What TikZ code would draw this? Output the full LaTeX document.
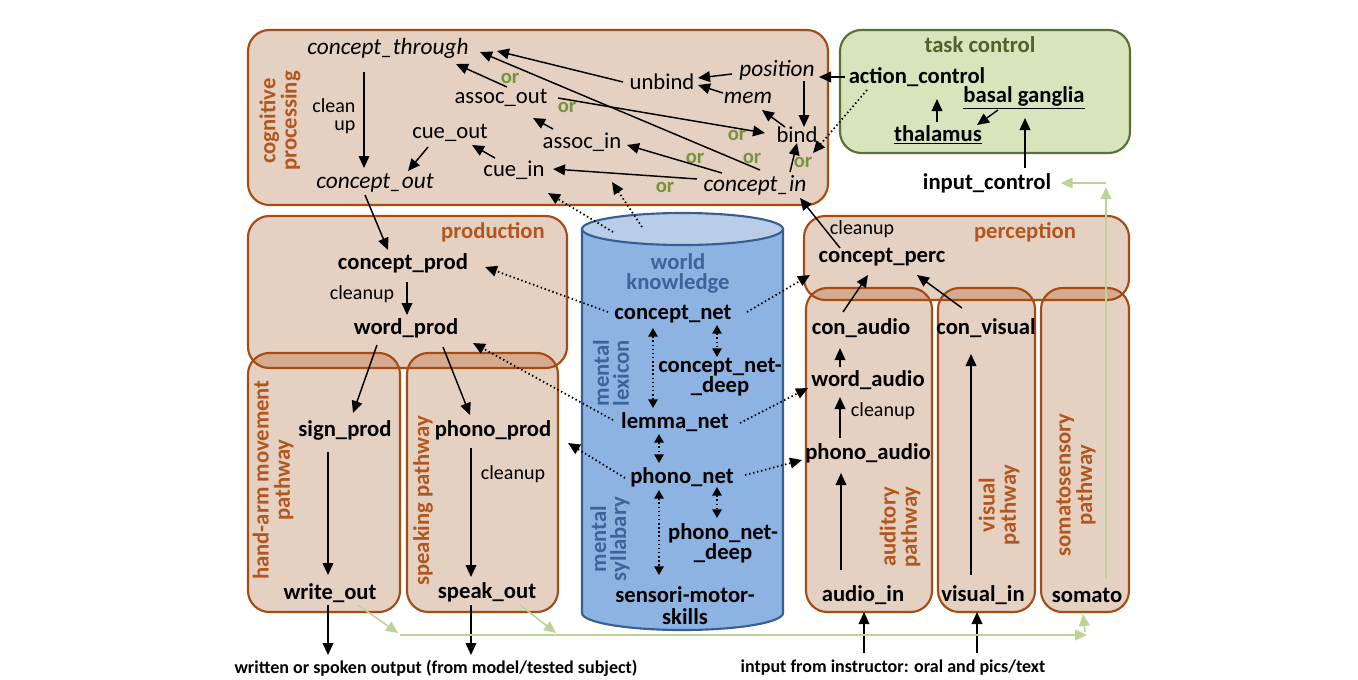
\documentclass[tikz,border=0pt]{standalone}
\usepackage{fontspec}
\setmainfont{Carlito}
\usetikzlibrary{arrows.meta,calc}

\begin{document}
\begin{tikzpicture}[x=0.75pt,y=-0.75pt,
    box/.style={fill=boxfill, rounded corners=16pt},
    boxline/.style={draw=boxdraw, line width=1.6pt, rounded corners=16pt},
    lbl/.style={inner sep=1pt, font=\fontsize{17}{16}\selectfont\bfseries},
    cog/.style={inner sep=1pt, font=\fontsize{17}{16}\selectfont},
    cogit/.style={inner sep=1pt, font=\fontsize{17.5}{16}\selectfont\itshape},
    small/.style={inner sep=1pt, font=\fontsize{15}{14}\selectfont},
    orlbl/.style={inner sep=0pt, text=orgreen, font=\fontsize{15.5}{14}\selectfont\bfseries},
    title/.style={inner sep=1pt, text=titlebrown, font=\fontsize{17}{16}\selectfont\bfseries},
    side/.style={title, rotate=90, align=center},
    cyllbl/.style={inner sep=1pt, text=cyltext, align=center, font=\fontsize{17}{15}\selectfont\bfseries},
    arr/.style={-{Triangle[length=9pt,width=8pt]}, line width=1.1pt},
    dots/.style={arr, dotted, line width=1.3pt},
    ddots/.style={dots, {Triangle[length=6.5pt,width=7pt]}-{Triangle[length=6.5pt,width=7pt]}},
    garr/.style={-{Triangle[length=9pt,width=8pt]}, line width=1.2pt, draw=linegreen, color=linegreen},
  ]
    % Colori
    \definecolor{boxfill}{RGB}{229,209,193}
    \definecolor{boxover}{RGB}{213,170,142}
    \definecolor{boxdraw}{RGB}{165,75,20}
    \definecolor{titlebrown}{RGB}{178,86,30}
    \definecolor{taskfill}{RGB}{216,228,188}
    \definecolor{taskdraw}{RGB}{90,112,50}
    \definecolor{tasktext}{RGB}{79,98,40}
    \definecolor{cylfill}{RGB}{141,179,226}
    \definecolor{cyltop}{RGB}{185,205,232}
    \definecolor{cyldraw}{RGB}{55,96,146}
    \definecolor{cyltext}{RGB}{60,100,155}
    \definecolor{linegreen}{RGB}{190,212,150}
    \definecolor{orgreen}{RGB}{119,147,60}

    \useasboundingbox (0,0) rectangle (1358,679);

    % Riquadri (riempimento)
    \fill[box] (248,30) rectangle (828,205);
    \fill[box] (248,216) rectangle (567,368);
    \fill[box] (248,353) rectangle (400,612);
    \fill[box] (407,353) rectangle (558,612);
    \fill[box] (804,216) rectangle (1129,300);
    \fill[box] (806,288) rectangle (932,612);
    \fill[box] (938,288) rectangle (1035,612);
    \fill[box] (1041,288) rectangle (1129,612);
    \filldraw[fill=taskfill, draw=taskdraw, line width=1.6pt, rounded corners=16pt] (840,30) rectangle (1130,153);

    % Zone di sovrapposizione
    \begin{scope}
      \clip[rounded corners=16pt] (248,216) rectangle (567,368);
      \fill[box, fill=boxover] (248,353) rectangle (400,612);
      \fill[box, fill=boxover] (407,353) rectangle (558,612);
    \end{scope}
    \begin{scope}
      \clip[rounded corners=16pt] (804,216) rectangle (1129,300);
      \fill[box, fill=boxover] (806,288) rectangle (932,612);
      \fill[box, fill=boxover] (938,288) rectangle (1035,612);
      \fill[box, fill=boxover] (1041,288) rectangle (1129,612);
    \end{scope}

    % Riquadri (bordi)
    \draw[boxline] (248,30) rectangle (828,205);
    \draw[boxline] (248,216) rectangle (567,368);
    \draw[boxline] (248,353) rectangle (400,612);
    \draw[boxline] (407,353) rectangle (558,612);
    \draw[boxline] (804,216) rectangle (1129,300);
    \draw[boxline] (806,288) rectangle (932,612);
    \draw[boxline] (938,288) rectangle (1035,612);
    \draw[boxline] (1041,288) rectangle (1129,612);

    % Cilindro
    \filldraw[fill=cylfill, draw=cyldraw, line width=1.6pt] (582,229) -- (582,613)
      arc[start angle=180, end angle=0, x radius=100.5, y radius=17] -- (783,229) -- cycle;
    \filldraw[fill=cyltop, draw=cyldraw, line width=1.6pt] (682.5,229) ellipse[x radius=100.5, y radius=16];

    % Titoli
    \node[side] (cogtitle) at (280,121) {cognitive\\processing};
    \node[title] (prodtitle) at (493,232) {production};
    \node[title] (perctitle) at (1025,232) {perception};
    \node[title, text=tasktext] (tasktitle) at (980,45) {task control};
    \node[side] (handtitle) at (273,480) {hand-arm movement\\pathway};
    \node[side] (speaktitle) at (423,501) {speaking pathway};
    \node[side] (audtitle) at (900,527) {auditory\\pathway};
    \node[side] (vistitle) at (999,505) {visual\\pathway};
    \node[side] (somtitle) at (1076,485) {somatosensory\\pathway};
    \node[cyllbl] (wk) at (678,273) {world\\knowledge};
    \node[cyllbl, rotate=90] (lexicon) at (611,373) {mental\\lexicon};
    \node[cyllbl, rotate=90] (syllab) at (610,539) {mental\\syllabary};

    % Elaborazione cognitiva
    \node[cogit] (thr) at (388,48) {concept\_through};
    \node[small, align=right, anchor=east] (cleanA) at (357,116) {clean\\up};
    \node[cogit] (cout) at (375,183) {concept\_out};
    \node[cog] (cueout) at (450,133) {cue\_out};
    \node[cog] (cuein) at (514,170) {cue\_in};
    \node[cog] (assocout) at (501,98) {assoc\_out};
    \node[cog] (associn) at (582,142) {assoc\_in};
    \node[cog] (unbind) at (662,82) {unbind};
    \node[cogit] (position) at (777,70) {position};
    \node[cogit] (mem) at (748,98) {mem};
    \node[cog] (bind) at (797,135) {bind};
    \node[cogit] (cin) at (755,185) {concept\_in};
    \node[orlbl] (or1) at (510,78) {or};
    \node[orlbl] (or2) at (567,107) {or};
    \node[orlbl] (or3) at (737,135) {or};
    \node[orlbl] (or4) at (695,158) {or};
    \node[orlbl] (or5) at (752,158) {or};
    \node[orlbl] (or6) at (803,162) {or};
    \node[orlbl] (or7) at (665,187) {or};

    % Controllo del compito
    \node[lbl] (action) at (917,77) {action\_control};
    \node[lbl] (basal) at (1024,98) {\underline{basal ganglia}};
    \node[lbl] (thal) at (938,135) {\underline{thalamus}};
    \node[lbl] (input) at (987,183) {input\_control};

    % Produzione
    \node[lbl] (cprod) at (403,263) {concept\_prod};
    \node[small] (cleanB) at (362,294) {cleanup};
    \node[lbl] (wprod) at (406,328) {word\_prod};
    \node[lbl] (sign) at (345,430) {sign\_prod};
    \node[lbl] (phonoprod) at (493,430) {phono\_prod};
    \node[small] (cleanC) at (513,474) {cleanup};
    \node[lbl] (writeout) at (330,593) {write\_out};
    \node[lbl] (speakout) at (487,592) {speak\_out};

    % Conoscenza (cilindro)
    \node[lbl] (cnet) at (673,314) {concept\_net};
    \node[lbl, align=center, font=\fontsize{17}{15}\selectfont\bfseries] (cdeep) at (720,377) {concept\_net-\\\_deep};
    \node[lbl] (lemma) at (675,422) {lemma\_net};
    \node[lbl] (pnet) at (682,477) {phono\_net};
    \node[lbl, align=center, font=\fontsize{17}{15}\selectfont\bfseries] (pdeep) at (723,543) {phono\_net-\\\_deep};
    \node[lbl, align=center, font=\fontsize{17}{16.5}\selectfont\bfseries] (smotor) at (685,606) {sensori-motor-\\skills};

    % Percezione
    \node[small] (cleanD) at (862,229) {cleanup};
    \node[lbl] (cperc) at (882,257) {concept\_perc};
    \node[lbl] (conaudio) at (861,328) {con\_audio};
    \node[lbl] (convisual) at (986,328) {con\_visual};
    \node[lbl] (waudio) at (868,380) {word\_audio};
    \node[small] (cleanE) at (883,411) {cleanup};
    \node[lbl] (paudio) at (868,453) {phono\_audio};
    \node[lbl] (audioin) at (863,595) {audio\_in};
    \node[lbl] (visualin) at (983,595) {visual\_in};
    \node[lbl] (somato) at (1087,595) {somato};

    % Testi in basso
    \node[lbl, font=\fontsize{13.5}{15}\selectfont\bfseries] (outtext) at (436,668) {written or spoken output (from model/tested subject)};
    \node[lbl, font=\fontsize{13.5}{15}\selectfont\bfseries] (intext) at (893,668) {intput from instructor: oral and pics/text};

    % Punti liberi
    \coordinate (top1) at (613,232);
    \coordinate (top2) at (642,227);
    \coordinate (hit) at (612,182);
    \coordinate (gA) at (400,635);
    \coordinate (gS) at (558,635);
    \coordinate (gB) at (1087,635);
    \coordinate (gUp) at (1106,183);

    % Frecce: elaborazione cognitiva
    \draw[arr] ($(thr)+(-24,24)$) -- ($(cout)+(-11,-15)$);
    \draw[arr] ($(cueout)+(-22,14)$) -- ($(cout)+(33,-12)$);
    \draw[arr] ($(cuein)+(-19,-12)$) -- ($(cueout)+(22,12)$);
    \draw[arr] ($(associn)+(-29,-13)$) -- ($(assocout)+(32,20)$);
    \draw[arr] ($(assocout)+(6,-11)$) -- ($(thr)+(68,16)$);
    \draw[arr] ($(cin)+(5,-15)$) -- ($(thr)+(92,4)$);
    \draw[arr] ($(unbind)+(-39,0)$) -- ($(thr)+(109,3)$);
    \draw[arr] ($(position)+(-45,4)$) -- ($(unbind)+(36,-4)$);
    \draw[arr] ($(mem)+(-25,-5)$) -- ($(unbind)+(36,3)$);
    \draw[arr] ($(position)+(27,11)$) -- ($(bind)+(7,-8)$);
    \draw[arr] ($(bind)+(-12,-8)$) -- ($(mem)+(14,12)$);
    \draw[arr] ($(assocout)+(57,0)$) -- ($(bind)+(-32,-2)$);
    \draw[arr] ($(cin)+(35,-13)$) -- ($(bind)+(0,8)$);
    \draw[arr] ($(cin)+(-33,-12)$) -- ($(associn)+(45,3)$);
    \draw[arr] ($(cin)+(-58,-6)$) -- ($(cuein)+(39,-1)$);
    \draw[arr] ($(action)+(-72,0)$) -- ($(position)+(42,7)$);
    \draw[dots] ($(action)+(-50,13)$) -- ($(bind)+(16,18)$);

    % Frecce: controllo del compito
    \draw[arr] ($(thal)+(-1,-13)$) -- ($(action)+(20,22)$);
    \draw[arr] ($(basal)+(-26,12)$) -- ($(thal)+(39,-10)$);
    \draw[arr] ($(input)+(38,-15)$) -- ($(basal)+(1,20)$);

    % Frecce: produzione
    \draw[arr] ($(cout)+(-10,12)$) -- ($(cprod)+(-15,-13)$);
    \draw[arr] ($(cprod)+(4,19)$) -- ($(wprod)+(1,-13)$);
    \draw[arr] ($(wprod)+(-29,17)$) -- ($(sign)+(8,-17)$);
    \draw[arr] ($(wprod)+(37,19)$) -- ($(phonoprod)+(-23,-15)$);
    \draw[arr] ($(sign)+(-17,22)$) -- ($(writeout)+(-2,-18)$);
    \draw[arr] ($(phonoprod)+(-22,18)$) -- ($(speakout)+(-16,-15)$);
    \draw[arr] ($(writeout)+(-2,12)$) -- ($(outtext)+(-108,-13)$);
    \draw[arr] ($(speakout)+(-16,13)$) -- ($(outtext)+(35,-13)$);

    % Frecce tratteggiate dal cilindro
    \draw[dots] (top1) -- ($(cuein)+(34,23)$);
    \draw[dots] (top2) -- (hit);
    \draw[dots] ($(cnet)+(-65,-2)$) -- ($(cprod)+(82,4)$);
    \draw[dots] ($(lemma)+(-62,-2)$) -- ($(wprod)+(67,15)$);
    \draw[dots] ($(pnet)+(-57,1)$) -- ($(phonoprod)+(75,13)$);
    \draw[dots] ($(cnet)+(74,-2)$) -- ($(cperc)+(-72,18)$);
    \draw[dots] ($(lemma)+(65,1)$) -- ($(waudio)+(-60,8)$);
    \draw[dots] ($(pnet)+(63,-2)$) -- ($(paudio)+(-66,7)$);
    \draw[ddots] ($(cnet)+(-20,14)$) -- ($(lemma)+(-22,-14)$);
    \draw[ddots] ($(cnet)+(44,11)$) -- ($(cdeep)+(-3,-20)$);
    \draw[ddots] ($(lemma)+(-16,12)$) -- ($(pnet)+(-23,-14)$);
    \draw[ddots] ($(pnet)+(35,10)$) -- ($(pdeep)+(-6,-25)$);
    \draw[ddots] ($(pnet)+(-23,13)$) -- ($(smotor)+(-26,-31)$);

    % Frecce: percezione
    \draw[arr] ($(cperc)+(-42,-9)$) -- ($(cin)+(45,13)$);
    \draw[arr] ($(conaudio)+(-18,-16)$) -- ($(cperc)+(-14,18)$);
    \draw[arr] ($(convisual)+(-24,-20)$) -- ($(cperc)+(35,18)$);
    \draw[arr] ($(waudio)+(-28,-13)$) -- ($(conaudio)+(-21,20)$);
    \draw[arr] ($(paudio)+(-28,-15)$) -- ($(waudio)+(-28,17)$);
    \draw[arr] ($(audioin)+(-22,-25)$) -- ($(paudio)+(-27,20)$);
    \draw[arr] ($(visualin)+(-12,-20)$) -- ($(convisual)+(-15,26)$);
    \draw[arr] ($(intext)+(-29,-15)$) -- ($(audioin)+(1,17)$);
    \draw[arr] ($(intext)+(84,-15)$) -- ($(visualin)+(-6,17)$);

    % Retroazione (verde)
    \draw[garr] ($(writeout)+(28,12)$) -- ($(gA)+(-2,-2)$);
    \draw[garr] ($(speakout)+(33,13)$) -- ($(gS)+(-2,-2)$);
    \draw[garr] (gA) -- (gB);
    \draw[garr] ($(gB)+(-2,-3)$) -- ($(somato)+(-4,19)$);
    \draw[garr] ($(somato)+(19,-17)$) -- ($(gUp)+(0,4)$);
    \draw[garr] (gUp) -- ($(input.east)+(8,0)$);

\end{tikzpicture}
\end{document}
